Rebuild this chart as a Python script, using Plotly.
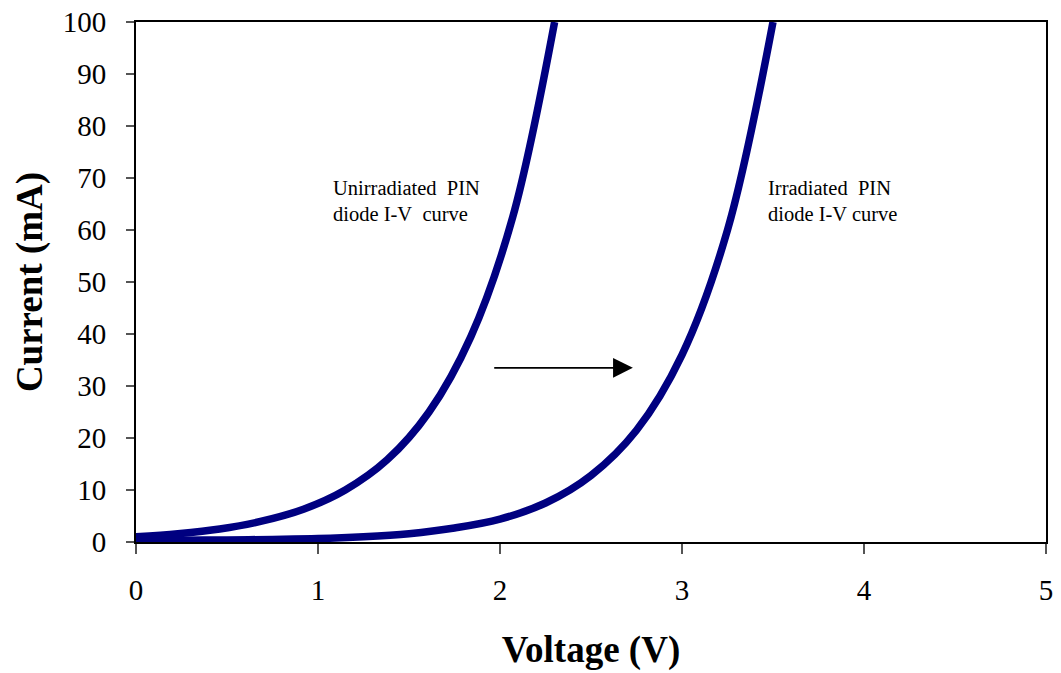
import plotly.graph_objects as go

# Forward I-V characteristics of a PIN diode before and after irradiation
voltage_unirr = [0.0, 0.23, 0.46, 0.69, 0.92, 1.15, 1.38, 1.61, 1.84, 2.07, 2.3]
current_unirr = [1.0, 1.6, 2.5, 4.0, 6.3, 10.0, 15.8, 25.0, 39.5, 62.5, 100.0]

voltage_irr = [0.0, 0.25, 0.5, 0.75, 1.0, 1.25, 1.5, 1.75, 2.0, 2.25, 2.5, 2.75, 3.0, 3.25, 3.5]
current_irr = [0.3, 0.35, 0.4, 0.5, 0.65, 1.0, 1.6, 2.7, 4.4, 7.5, 12.8, 21.5, 36.0, 60.0, 100.0]

x_ticks = [0, 1, 2, 3, 4, 5]
y_ticks = [0, 10, 20, 30, 40, 50, 60, 70, 80, 90, 100]

SERIF = "Liberation Serif, Times New Roman, serif"
NAVY = "#000080"
NB = "\u00a0"

fig = go.Figure()
for vx, iy, name in [(voltage_unirr, current_unirr, "Unirradiated"),
                     (voltage_irr, current_irr, "Irradiated")]:
    fig.add_trace(go.Scatter(
        x=vx, y=iy, mode="lines", name=name,
        line=dict(color=NAVY, width=7.5, shape="spline", smoothing=1.0),
        showlegend=False,
    ))

label_style = dict(showarrow=False, xref="x", yref="y", xanchor="left",
                   yanchor="middle", font=dict(family=SERIF, size=20.5, color="#000"))
fig.add_annotation(x=1.07, y=68.0, text=f"Unirradiated{NB} PIN", **label_style)
fig.add_annotation(x=1.07, y=63.0, text=f"diode I-V{NB} curve", **label_style)
fig.add_annotation(x=3.46, y=68.0, text=f"Irradiated{NB} PIN", **label_style)
fig.add_annotation(x=3.46, y=63.0, text="diode I-V curve", **label_style)

# Shift arrow between the two curves
fig.add_annotation(
    x=2.73, y=33.5, ax=1.96, ay=33.5, xref="x", yref="y", axref="x", ayref="y",
    text="", showarrow=True, arrowhead=2, arrowsize=2.2, arrowwidth=1.8,
    arrowcolor="#000", standoff=0,
)

axis_common = dict(
    showgrid=False, zeroline=False, showline=True, linecolor="#000",
    linewidth=2, mirror=True, ticks="outside", tickcolor="#555",
    tickwidth=1.5, tickfont=dict(family=SERIF, size=29, color="#000"),
    automargin=False,
)

fig.update_xaxes(
    range=[0, 5], tickvals=x_ticks, ticklen=10, ticklabelstandoff=11,
    title=dict(text="<b>Voltage (V)</b>", font=dict(family=SERIF, size=37, color="#000"),
               standoff=31),
    **axis_common,
)
fig.update_yaxes(
    range=[0, 100], tickvals=y_ticks, ticklen=8, ticklabelstandoff=14,
    title=dict(text="<b>Current (mA)</b>", font=dict(family=SERIF, size=37, color="#000"),
               standoff=9),
    **axis_common,
)

fig.update_layout(
    width=1061, height=673,
    margin=dict(l=136, r=15, t=22, b=131),
    paper_bgcolor="white", plot_bgcolor="white",
)

fig.write_html("out.html")
